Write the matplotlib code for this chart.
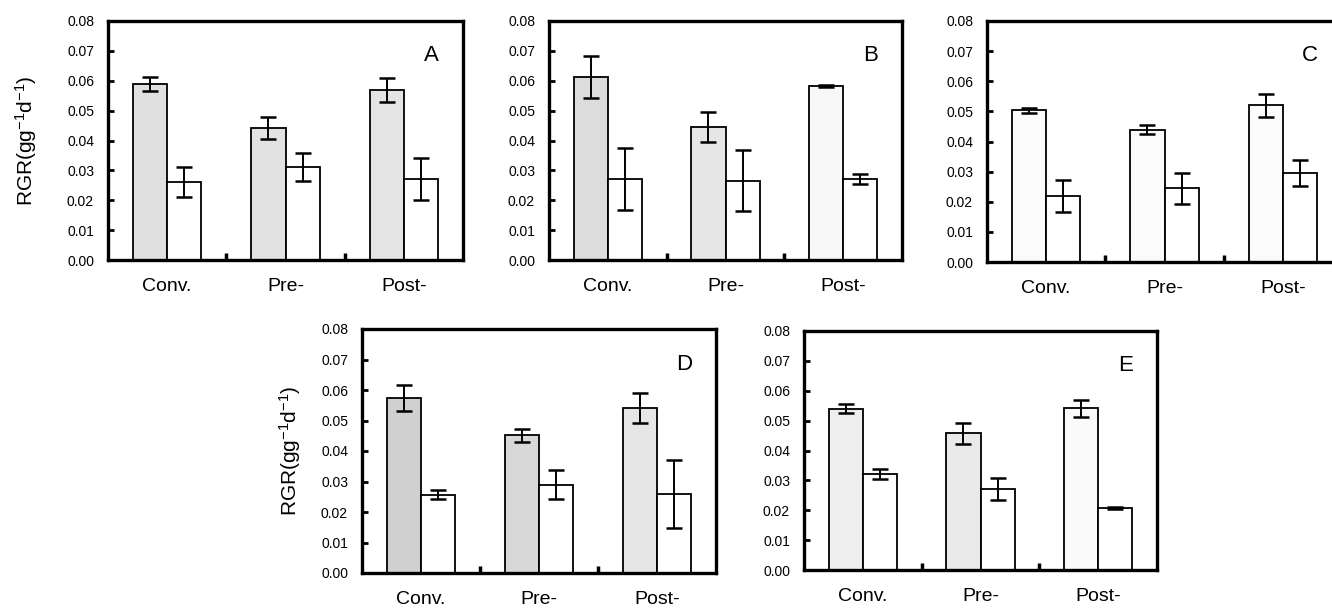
import matplotlib
matplotlib.use("Agg")
import matplotlib.pyplot as plt
import numpy as np

plt.rcParams['font.family'] = ['Liberation Sans', 'DejaVu Sans']
plt.rcParams['mathtext.fontset'] = 'custom'
plt.rcParams['mathtext.rm'] = 'Liberation Sans'
plt.rcParams['mathtext.it'] = 'Liberation Sans'

groups = ['Conv.', 'Pre-', 'Post-']
panels = ['A', 'B', 'C', 'D', 'E']

# shaded (first) bar of each group, mean and error
shaded = {
    'A': [0.0590, 0.0443, 0.0568],
    'B': [0.0612, 0.0446, 0.0582],
    'C': [0.0503, 0.0439, 0.0520],
    'D': [0.0574, 0.0451, 0.0541],
    'E': [0.0540, 0.0457, 0.0541],
}
shaded_err = {
    'A': [0.0023, 0.0037, 0.0040],
    'B': [0.0070, 0.0050, 0.0003],
    'C': [0.0008, 0.0015, 0.0038],
    'D': [0.0044, 0.0022, 0.0050],
    'E': [0.0015, 0.0036, 0.0029],
}
# open (second) bar of each group
open_ = {
    'A': [0.0262, 0.0310, 0.0271],
    'B': [0.0271, 0.0266, 0.0271],
    'C': [0.0218, 0.0244, 0.0296],
    'D': [0.0256, 0.0290, 0.0259],
    'E': [0.0321, 0.0271, 0.0207],
}
open_err = {
    'A': [0.0050, 0.0047, 0.0070],
    'B': [0.0105, 0.0102, 0.0016],
    'C': [0.0053, 0.0052, 0.0044],
    'D': [0.0015, 0.0049, 0.0112],
    'E': [0.0017, 0.0037, 0.0003],
}

# stipple shade of the first bar (print varies per panel)
shade = {
    'A': ['#e0e0e0', '#e2e2e2', '#e4e4e4'],
    'B': ['#dcdcdc', '#e6e6e6', '#f8f8f8'],
    'C': ['#fbfbfb', '#fbfbfb', '#fbfbfb'],
    'D': ['#d0d0d0', '#d8d8d8', '#e6e6e6'],
    'E': ['#eeeeee', '#eaeaea', '#fafafa'],
}

W, H = 1332, 610
# axes boxes in pixels: left, right, top, bottom
boxes = {
    'A': (108, 463, 21, 260),
    'B': (549, 902, 21, 260),
    'C': (987, 1342, 21, 262),
    'D': (362, 716, 329, 573),
    'E': (804, 1157, 331, 570),
}
ylab_x = {'A': -0.195, 'D': -0.168}

fig = plt.figure(figsize=(W / 100, H / 100), dpi=100)

x = np.arange(len(groups))
bw = 0.29
yt = np.arange(0, 0.081, 0.01)

for p in panels:
    l, r, t, b = boxes[p]
    ax = fig.add_axes([l / W, (H - b) / H, (r - l) / W, (b - t) / H])
    ax.bar(x - bw / 2, shaded[p], bw, color=shade[p], edgecolor='black', linewidth=1.3, zorder=2)
    ax.bar(x + bw / 2, open_[p], bw, color='white', edgecolor='black', linewidth=1.3, zorder=2)
    ax.errorbar(x - bw / 2, shaded[p], yerr=shaded_err[p], fmt='none', ecolor='black',
                elinewidth=1.4, capsize=5.5, capthick=1.8, zorder=3)
    ax.errorbar(x + bw / 2, open_[p], yerr=open_err[p], fmt='none', ecolor='black',
                elinewidth=1.4, capsize=5.5, capthick=1.8, zorder=3)

    ax.set_xlim(-0.5, 2.5)
    ax.set_ylim(0, 0.08)
    ax.set_yticks(yt)
    ax.set_yticklabels(['%.2f' % v for v in yt], fontsize=10)
    ax.tick_params(axis='y', direction='in', length=4, width=2, pad=10)
    ax.set_xticks(x)
    ax.set_xticklabels(groups, fontsize=14)
    ax.tick_params(axis='x', which='major', length=0, pad=13)
    ax.set_xticks([0.5, 1.5], minor=True)
    ax.tick_params(axis='x', which='minor', direction='in', length=5, width=2.5)
    for s in ax.spines.values():
        s.set_linewidth(2.4)
    ax.text(0.91, 0.855, p, transform=ax.transAxes, fontsize=16, ha='center', va='center')
    if p in ylab_x:
        ax.set_ylabel('RGR(gg$^{-1}$d$^{-1}$)', fontsize=15)
        ax.yaxis.set_label_coords(ylab_x[p], 0.5)

fig.savefig('out.png', dpi=100)
